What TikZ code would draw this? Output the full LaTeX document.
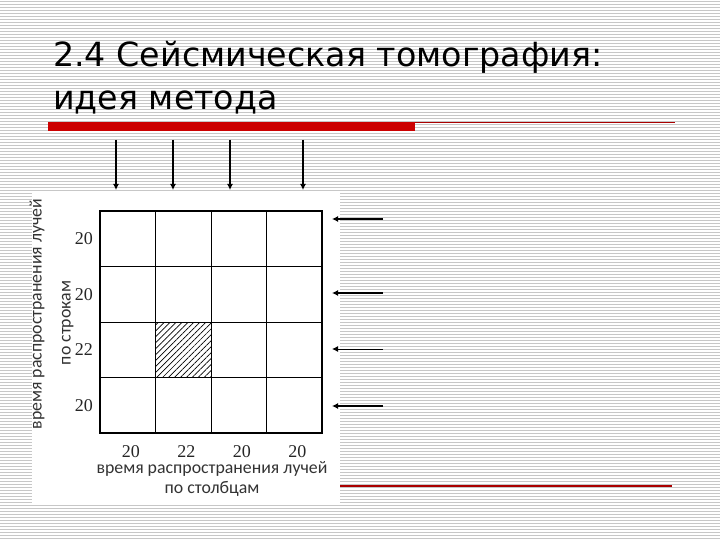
\documentclass[tikz,border=0pt]{standalone}
\usepackage{fontspec}
\setmainfont{DejaVu Sans}
\newfontfamily\labelfont{Carlito}
\newfontfamily\numfont{Liberation Serif}
\usepackage{tikz}
\usetikzlibrary{positioning,patterns.meta,arrows.meta}

\definecolor{barred}{RGB}{204,0,0}
\definecolor{linered}{RGB}{170,0,0}

\tikzset{
  stripe/.style={draw=black!22, line width=1pt},
  cellbox/.style={draw=black, thin, shape=rectangle, minimum width=55.5pt, minimum height=55.5pt, inner sep=0},
  num/.style={font=\numfont\fontsize{18}{18}\selectfont, text=black!85, inner sep=0, text height=12pt, text depth=0pt, anchor=base},
  caption/.style={font=\labelfont\fontsize{17.8}{20}\selectfont, text=black!80, inner sep=0, text height=10pt, text depth=2pt, anchor=base},
  ray/.style={-{Latex[length=6pt,width=6pt]}, line width=2pt},
  title/.style={font=\fontsize{33.3}{40}\selectfont, inner sep=0, anchor=base west}
}

\begin{document}
\begin{tikzpicture}[x=1pt, y=-1pt]
\useasboundingbox (0,0) rectangle (720,540);

\fill[white] (0,0) rectangle (720,540);
\foreach \k in {0,...,179}
  \draw[stripe] (0, {3*\k+1.5}) -- (720, {3*\k+1.5});

\path (53, 67) node[title] (title1) {2.4 Сейсмическая томография:};
\path (53, 110) node[title] (title2) {идея метода};

\fill[barred] (48, 122) rectangle (415, 131);
\draw[linered, line width=1pt] (415, 123) -- (675, 123);
\draw[linered, line width=1.2pt] (340, 486) -- (672, 486);

\fill[white] (32, 192) rectangle (340, 503);

\foreach \r in {1,...,4}
  \foreach \c in {1,...,4}
    \path ({100+55.5*(\c-0.5)}, {211+55.5*(\r-0.5)}) node[cellbox] (cell\r\c) {};
\path (cell32.center) node[cellbox, pattern={Lines[angle=45, distance=4.2pt, line width=0.7pt]}] (hatch) {};
\draw[line width=2.5pt] (cell11.north west) rectangle (cell44.south east);

\foreach \r/\v in {1/20, 2/20, 3/22, 4/20}
  \path (cell\r1.west) ++(-16, 6) node[num] (row\r) {\v};
\foreach \c/\v in {1/20, 2/22, 3/20, 4/20}
  \path (cell4\c.south) ++(3, 24) node[num] (col\c) {\v};

\path (212, 473) node[caption] (colcap1) {время распространения лучей};
\path (212, 493) node[caption] (colcap2) {по столбцам};
\path (41.5, 314) node[caption, rotate=90] (rowcap1) {время распространения лучей};
\path (70.5, 323) node[caption, rotate=90] (rowcap2) {по строкам};

\foreach \i/\x in {1/116, 2/173, 3/230, 4/303} {
  \coordinate (src\i) at (\x, 140);
  \coordinate (dst\i) at (\x, 190);
  \draw[ray] (src\i) -- (dst\i);
}
\foreach \i/\y/\w in {1/219/2pt, 2/293/2pt, 3/349/1pt, 4/406/2pt} {
  \coordinate (west\i) at (383, \y);
  \coordinate (east\i) at (332, \y);
  \draw[ray, line width=\w] (west\i) -- (east\i);
}
\end{tikzpicture}
\end{document}
